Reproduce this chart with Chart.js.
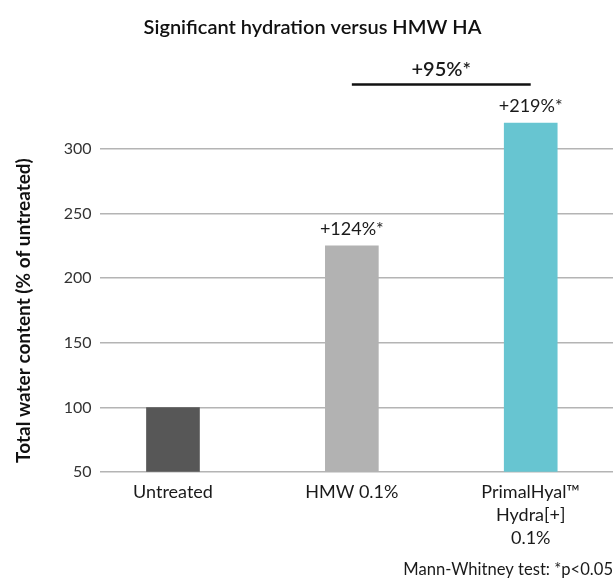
<!DOCTYPE html>
<html>
<head>
<meta charset="utf-8">
<script src="https://cdn.jsdelivr.net/npm/chart.js@4.4.0/dist/chart.umd.min.js"></script>
<style>
  html, body { margin: 0; padding: 0; background: #fff; overflow: hidden; }
  #wrap { width: 613px; height: 580px; }
</style>
</head>
<body>
<div id="wrap"><canvas id="chart1"></canvas></div>
<script>
// data
var categories = [['Untreated'], ['HMW 0.1%'], ['PrimalHyal\u2122', 'Hydra[+]', '0.1%']];
var waterContent = [100, 225, 320];
var barLabels = ['', '+124%*', '+219%*'];
var barColours = ['#575757', '#b2b2b2', '#67c5d1'];
var yTicks = [50, 100, 150, 200, 250, 300];
var bracketText = '+95%*';
var bracketFrom = 1, bracketTo = 2, bracketValue = 350;

var FONT = 'Lato, "Noto Sans", sans-serif';

var points = waterContent.map(function(v, i) { return { x: i, y: v }; });

var annotations = {
  id: 'annotations',
  afterDatasetsDraw: function(chart) {
    var c = chart.ctx;
    var meta = chart.getDatasetMeta(0);
    var y = chart.scales.y;
    c.save();
    c.fillStyle = '#1a1a1a';
    c.textAlign = 'center';
    c.textBaseline = 'alphabetic';
    c.font = '18px ' + FONT;
    meta.data.forEach(function(bar, i) {
      if (barLabels[i]) c.fillText(barLabels[i], bar.x, bar.y - 11);
    });
    var x1 = meta.data[bracketFrom].x, x2 = meta.data[bracketTo].x;
    var by = y.getPixelForValue(bracketValue);
    c.strokeStyle = '#111';
    c.lineWidth = 2.5;
    c.beginPath();
    c.moveTo(x1, by);
    c.lineTo(x2, by);
    c.stroke();
    c.font = '600 20px ' + FONT;
    c.fillText(bracketText, (x1 + x2) / 2, by - 8);
    c.restore();
  }
};

var chart1 = new Chart(document.getElementById('chart1').getContext('2d'), {
  type: 'bar',
  data: {
    datasets: [{
      label: 'Total water content',
      data: points,
      backgroundColor: barColours,
      barThickness: 53,
      base: 50,
      clip: false
    }]
  },
  options: {
    responsive: true,
    maintainAspectRatio: false,
    animation: false,
    layout: { padding: { left: 12, right: 0, top: 0, bottom: 0 } },
    plugins: {
      legend: { display: false },
      tooltip: { enabled: false },
      title: {
        display: true,
        text: 'Significant hydration versus HMW HA',
        color: '#111',
        font: { family: FONT, size: 20, weight: '600' },
        padding: { top: 16, bottom: 109 }
      },
      subtitle: {
        display: true,
        position: 'bottom',
        align: 'end',
        text: 'Mann-Whitney test: *p<0.05',
        color: '#1a1a1a',
        font: { family: FONT, size: 16.6 },
        padding: { top: 6, bottom: 0 }
      }
    },
    scales: {
      x: {
        type: 'linear',
        offset: false,
        bounds: 'data',
        min: -0.41,
        max: 2.46,
        afterBuildTicks: function(axis) {
          axis.ticks = categories.map(function(c, i) { return { value: i }; });
        },
        afterFit: function(axis) { axis.height = 82; },
        ticks: {
          autoSkip: false,
          maxRotation: 0,
          padding: 1,
          color: '#1a1a1a',
          font: { family: FONT, size: 18, lineHeight: 1.26 },
          callback: function(v) { return categories[v]; }
        },
        grid: { display: false },
        border: { display: false }
      },
      y: {
        min: 50,
        max: 300,
        afterBuildTicks: function(axis) {
          axis.ticks = yTicks.map(function(v) { return { value: v }; });
        },
        ticks: {
          padding: 8,
          color: '#333',
          font: { family: FONT, size: 16 }
        },
        grid: { color: '#b4b4b4', lineWidth: 1.5, drawTicks: false },
        border: { display: false },
        title: {
          display: true,
          text: 'Total water content (% of untreated)',
          color: '#111',
          font: { family: FONT, size: 19, weight: 'bold' },
          padding: { top: 0, bottom: 21 }
        }
      }
    }
  },
  plugins: [annotations]
});
</script>
</body>
</html>
